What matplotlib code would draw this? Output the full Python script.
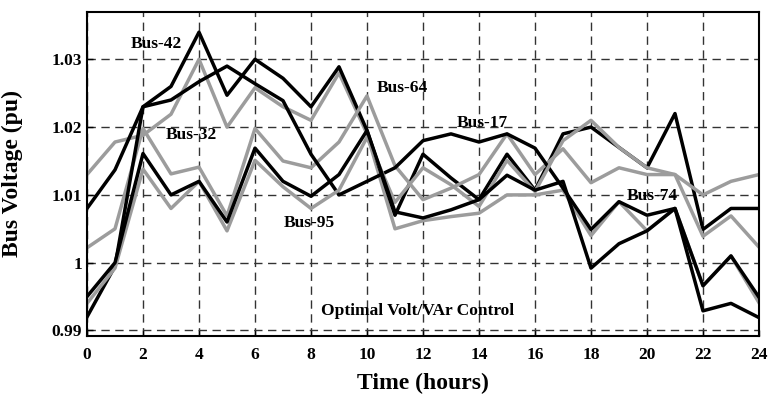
import matplotlib.pyplot as plt
import numpy as np

hours = np.arange(0, 25)

# bus voltages (pu) over the day
bus42 = [1.008, 1.0137, 1.023, 1.026, 1.034, 1.0247, 1.030, 1.0272, 1.023, 1.0289,
         1.0195, 1.007, 1.016, 1.0125, 1.0093, 1.016, 1.0107, 1.019, 1.020, 1.017,
         1.014, 1.022, 1.0049, 1.008, 1.008]
bus17 = [0.992, 0.9995, 1.023, 1.024, 1.0267, 1.029, 1.0264, 1.0239, 1.016, 1.010,
         1.012, 1.014, 1.018, 1.019, 1.0178, 1.019, 1.0169, 1.011, 1.0049, 1.009,
         1.007, 1.008, 0.9966, 1.001, 0.9949]
bus74 = [0.995, 1.000, 1.0161, 1.010, 1.012, 1.006, 1.0169, 1.012, 1.0098, 1.013,
         1.0195, 1.0075, 1.0066, 1.0078, 1.0093, 1.0129, 1.0107, 1.012, 0.9992, 1.0028,
         1.0047, 1.008, 0.9929, 0.994, 0.9919]
bus64 = [1.0022, 1.005, 1.0198, 1.0131, 1.0141, 1.0069, 1.0198, 1.015, 1.014, 1.0178,
         1.0246, 1.0143, 1.0093, 1.011, 1.013, 1.019, 1.013, 1.0168, 1.0118, 1.014,
         1.013, 1.013, 1.010, 1.012, 1.013]
bus32 = [1.013, 1.0178, 1.0188, 1.0219, 1.030, 1.020, 1.0258, 1.023, 1.021, 1.028,
         1.019, 1.005, 1.0062, 1.0068, 1.0073, 1.010, 1.010, 1.0107, 1.004, 1.009,
         1.0047, 1.008, 0.9966, 1.001, 0.9941]
bus95 = [0.994, 0.9992, 1.0138, 1.008, 1.012, 1.0047, 1.0151, 1.0112, 1.008, 1.0107,
         1.0185, 1.0089, 1.014, 1.0115, 1.0083, 1.0151, 1.0105, 1.018, 1.021, 1.017,
         1.014, 1.013, 1.0039, 1.0069, 1.0023]

labels = ["Bus-42", "Bus-64", "Bus-32", "Bus-17", "Bus-95", "Bus-74"]
label_x = [2.46, 11.25, 3.71, 14.1, 7.93, 20.2]
label_y = [1.0322, 1.0257, 1.0189, 1.0206, 1.0059, 1.0099]

plt.rcParams['font.family'] = ['Liberation Serif', 'DejaVu Serif']
plt.rcParams['font.weight'] = 'bold'

black = '#000000'
grey = '#9c9c9c'

fig = plt.figure(figsize=(7.7, 3.98), dpi=100)
ax = fig.add_axes([0.113, 0.156, 0.8727, 0.8142])

lw = 2.5
ax.plot(hours, bus32, color=grey, lw=lw)
ax.plot(hours, bus42, color=black, lw=lw)
ax.plot(hours, bus64, color=grey, lw=lw)
ax.plot(hours, bus17, color=black, lw=lw)
ax.plot(hours, bus95, color=grey, lw=lw)
ax.plot(hours, bus74, color=black, lw=lw)

for name, x, y in zip(labels, label_x, label_y):
    ax.text(x, y, name, fontsize=12.5, fontweight='bold', ha='center', va='center')
ax.text(11.79, 0.9929, "Optimal Volt/VAr Control", fontsize=12.5,
        fontweight='bold', ha='center', va='center')

ax.set_xlim(0, 24)
ax.set_ylim(0.9892, 1.0370)
ax.set_xticks(np.arange(0, 25, 2))
ax.set_yticks([0.99, 1.00, 1.01, 1.02, 1.03])
ax.set_yticklabels(["0.99", "1", "1.01", "1.02", "1.03"])
ax.tick_params(direction='in', length=4, labelsize=12.5, width=1)
ax.tick_params(axis='x', pad=8)
for lab in ax.get_xticklabels() + ax.get_yticklabels():
    lab.set_fontweight('bold')

ax.grid(True, color='#333333', linestyle=(0, (6, 4)), linewidth=1)
for s in ax.spines.values():
    s.set_linewidth(1.5)

ax.set_xlabel("Time (hours)", fontsize=17, fontweight='bold', labelpad=7)
ax.set_ylabel("Bus Voltage (pu)", fontsize=17, fontweight='bold')
ax.yaxis.set_label_coords(-0.095, 0.5)

fig.savefig("out.png", dpi=100)
